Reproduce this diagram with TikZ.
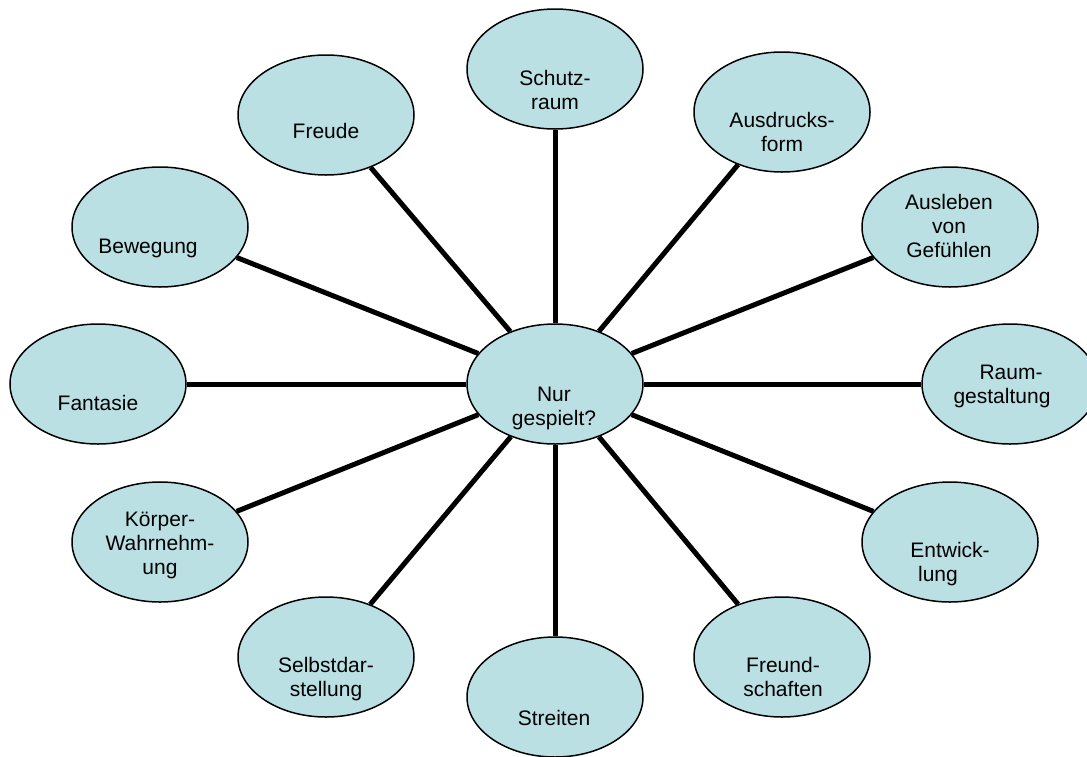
\documentclass[tikz,border=0pt]{standalone}
\usepackage{fontspec}
\setmainfont{Liberation Sans}
\usetikzlibrary{shapes.geometric,backgrounds}
\definecolor{bubfill}{RGB}{186,224,228}
\tikzset{
  bub/.style={ellipse, draw=black, line width=1.5pt, fill=bubfill,
    minimum width=176pt, minimum height=120pt, inner sep=0pt},
  lab/.style={align=center, anchor=base, inner sep=0pt,
    font=\fontsize{21}{24}\selectfont},
  spoke/.style={line width=5pt, draw=black}
}
\begin{document}
\begin{tikzpicture}[x=1pt,y=-1pt]
\useasboundingbox (0,0) rectangle (1087,756);
% bubbles
\node[bub] (c)  at (555,384) {};
\node[bub] (n1) at (555,69) {};
\node[bub] (n2) at (782,112) {};
\node[bub] (n3) at (950,227) {};
\node[bub] (n4) at (1010,384) {};
\node[bub] (n5) at (950,542) {};
\node[bub] (n6) at (782,657) {};
\node[bub] (n7) at (555,697) {};
\node[bub] (n8) at (326,657) {};
\node[bub] (n9) at (160,542) {};
\node[bub] (n10) at (98,384) {};
\node[bub] (n11) at (160,227) {};
\node[bub] (n12) at (326,115) {};
% labels (anchor base = baseline of last line)
\node[lab] (tc)  at (554,425) {Nur\\gespielt?};
\node[lab] (t1)  at (555,109) {Schutz-\\raum};
\node[lab] (t2)  at (782,151) {Ausdrucks-\\form};
\node[lab] (t3)  at (949,257) {Ausleben\\von\\Gefühlen};
\node[lab] (t4)  at (1002,403) {\hspace*{18pt}Raum-\\gestaltung};
\node[lab] (t5)  at (950,581) {Entwick-\\lung\hspace*{24pt}};
\node[lab] (t6)  at (783,696) {Freund-\\schaften};
\node[lab] (t7)  at (554,725) {Streiten};
\node[lab] (t8)  at (326,696) {Selbstdar-\\stellung};
\node[lab] (t9)  at (160,574) {Körper-\\Wahrnehm-\\ung};
\node[lab] (t10) at (98,410)  {Fantasie};
\node[lab] (t11) at (148,253) {Bewegung};
\node[lab] (t12) at (326,138) {Freude};
% spokes
\begin{scope}[on background layer]
\foreach \n in {n1,n2,n3,n4,n5,n6,n7,n8,n9,n10,n11,n12}
  \draw[spoke] (c) -- (\n);
\end{scope}
\end{tikzpicture}
\end{document}
